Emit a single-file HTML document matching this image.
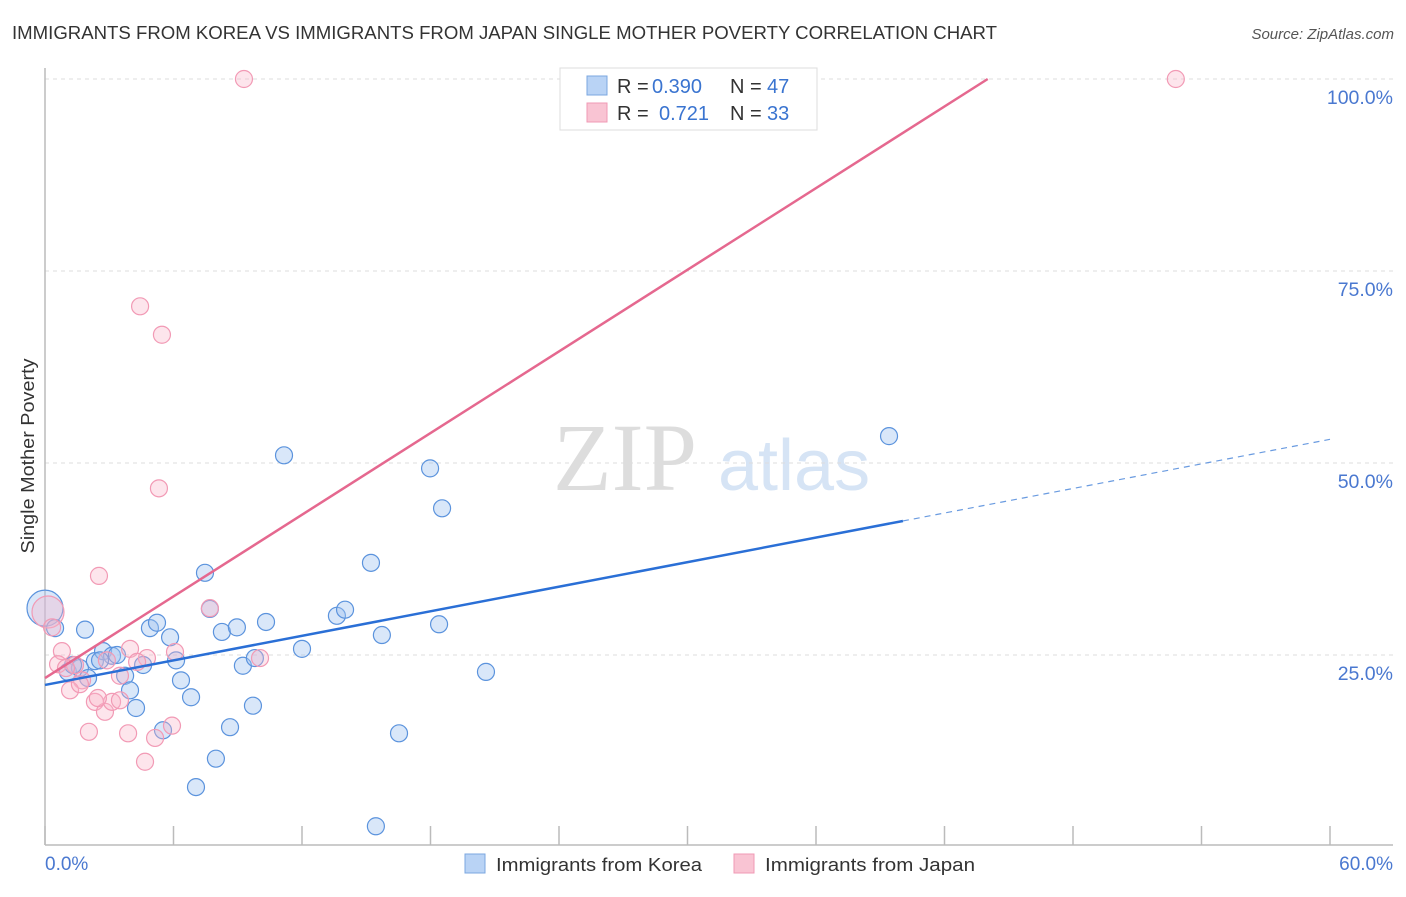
<!DOCTYPE html>
<html><head><meta charset="utf-8"><style>
body{margin:0;background:#fff;font-family:"Liberation Sans",sans-serif}
</style></head><body>
<svg id="c" width="1406" height="892" xmlns="http://www.w3.org/2000/svg" font-family="Liberation Sans, sans-serif">
<text x="12" y="39" font-size="18" fill="#333" textLength="985" lengthAdjust="spacingAndGlyphs">IMMIGRANTS FROM KOREA VS IMMIGRANTS FROM JAPAN SINGLE MOTHER POVERTY CORRELATION CHART</text>
<text x="1394" y="39" font-size="15" fill="#555" text-anchor="end" font-style="italic">Source: ZipAtlas.com</text>
<g>
<text x="553" y="490" font-size="96" font-family="Liberation Serif, serif" fill="#ddd">ZIP</text>
<text x="718" y="490" font-size="72" fill="#d6e4f5">atlas</text>
</g>
<g id="grid"></g>
<line x1="45" y1="68" x2="45" y2="845" stroke="#bbb" stroke-width="1.5"/>
<line x1="45" y1="845" x2="1393" y2="845" stroke="#bbb" stroke-width="1.5"/>
<text transform="translate(34,456) rotate(-90)" font-size="18" fill="#333" text-anchor="middle" textLength="195" lengthAdjust="spacingAndGlyphs">Single Mother Poverty</text>
<text x="45" y="870" font-size="19" fill="#4a78d0">0.0%</text>
<text x="1393" y="870" font-size="19" fill="#4a78d0" text-anchor="end">60.0%</text>
<g id="pts"></g>
<g id="lines"></g>
<g>
<rect x="560" y="68" width="257" height="62" fill="#fff" stroke="#ddd"/>
<rect x="587" y="76" width="20" height="19" fill="#b9d3f5" stroke="#7ba7e0"/>
<rect x="587" y="103" width="20" height="19" fill="#f9c4d3" stroke="#f09ab5"/>
<text x="617" y="93" font-size="20" fill="#333">R =</text>
<text x="652" y="93" font-size="20" fill="#3a74d0">0.390</text>
<text x="730" y="93" font-size="20" fill="#333">N =</text>
<text x="767" y="93" font-size="20" fill="#3a74d0">47</text>
<text x="617" y="120" font-size="20" fill="#333">R =</text>
<text x="659" y="120" font-size="20" fill="#3a74d0">0.721</text>
<text x="730" y="120" font-size="20" fill="#333">N =</text>
<text x="767" y="120" font-size="20" fill="#3a74d0">33</text>
</g>
<g>
<rect x="465" y="854" width="20" height="19" fill="#b9d3f5" stroke="#7ba7e0"/>
<text x="496" y="871" font-size="18" fill="#333" textLength="206" lengthAdjust="spacingAndGlyphs">Immigrants from Korea</text>
</g>
<g>
<rect x="734" y="854" width="20" height="19" fill="#f9c4d3" stroke="#f09ab5"/>
<text x="765" y="871" font-size="18" fill="#333" textLength="210" lengthAdjust="spacingAndGlyphs">Immigrants from Japan</text>
</g>
</svg>
<script>
const koreaX=[0,0.47,1.87,1.07,1.63,2.33,2.71,3.13,3.36,2.01,3.74,3.97,4.58,4.90,5.23,5.84,6.12,6.35,6.82,4.25,5.51,7.47,7.70,8.26,8.96,9.24,9.80,10.32,9.71,8.64,7.98,7.05,11.16,12.00,13.63,14.01,15.22,15.73,15.45,16.53,17.98,18.54,18.40,20.59,39.41,2.57,1.31];
const koreaY=[31.1,28.5,28.3,22.8,23.3,24.2,25.5,24.9,25.0,22.0,22.3,20.4,23.7,28.5,29.2,27.3,24.3,21.7,19.5,18.1,15.2,35.7,31.0,28.0,28.6,23.6,24.6,29.3,18.4,15.6,11.5,7.8,51.0,25.8,30.1,30.9,37.0,27.6,2.7,14.8,49.3,44.1,29.0,22.8,53.5,24.3,23.7];
const japanX=[0.14,0.33,0.79,0.61,1.40,1.73,2.52,4.44,5.46,5.32,9.29,52.8,7.70,3.97,4.76,6.07,10.04,3.50,2.33,2.80,3.13,3.50,2.05,3.88,5.14,5.93,4.67,4.30,2.89,1.17,1.63,2.47,0.98];
const japanY=[30.6,28.6,25.5,23.8,23.7,21.7,35.3,70.4,66.7,46.7,100,100,31.1,25.8,24.6,25.4,24.6,22.3,18.9,17.6,18.9,19.1,15.0,14.8,14.2,15.8,11.1,24.1,24.3,20.4,21.2,19.4,23.3];
const yTicks=[25,50,75,100];
const yTickLabels=["25.0%","50.0%","75.0%","100.0%"];
const xTicks=[0,6,12,18,24,30,36,42,48,54,60];
const koreaTrend=[21.1,0.533,40.06];
const japanTrend=[22.0,1.772];
const NS="http://www.w3.org/2000/svg";
const sx=v=>45+v/60*1285, sy=v=>847-v*7.68;
function mk(t,a,p){const e=document.createElementNS(NS,t);for(const k in a)e.setAttribute(k,a[k]);p.appendChild(e);return e;}
const grid=document.getElementById('grid');
yTicks.forEach((t,i)=>{
 const l=mk('line',{x1:45,x2:1393,y1:sy(t),y2:sy(t),stroke:'#ddd','stroke-dasharray':'4,4'},grid);
 
 
 const tx=mk('text',{x:1393,y:sy(t)+25,'font-size':19.5,fill:'#4a78d0','text-anchor':'end'},grid);
 tx.textContent=yTickLabels[i];
 
 
});
xTicks.forEach(t=>{
 const l=mk('line',{x1:sx(t),x2:sx(t),y1:826,y2:845,stroke:'#bbb','stroke-width':1.5},grid);
 
 
});
const pts=document.getElementById('pts');
koreaX.forEach((x,i)=>{
 const r=(i===0)?18:8.5;
 const c=mk('circle',{cx:sx(x),cy:sy(koreaY[i]),r:r,fill:'rgba(160,195,240,0.4)',stroke:'#5b93dd','stroke-width':1.2},pts);
 
 
});
japanX.forEach((x,i)=>{
 const r=(i===0)?16:8.5;
 const c=mk('circle',{cx:sx(x),cy:sy(japanY[i]),r:r,fill:'rgba(248,180,200,0.35)',stroke:'#f29ab5','stroke-width':1.2},pts);
 
 
});
const ln=document.getElementById('lines');
const kb=koreaTrend[0],km=koreaTrend[1],ke=koreaTrend[2];
let l=mk('line',{x1:sx(0),y1:sy(kb),x2:sx(ke),y2:sy(kb+km*ke),stroke:'#2a6fd6','stroke-width':2.5},ln);


l=mk('line',{x1:sx(ke),y1:sy(kb+km*ke),x2:sx(60),y2:sy(kb+km*60),stroke:'#6a9be0','stroke-width':1.2,'stroke-dasharray':'6,5'},ln);


const jb=japanTrend[0],jm=japanTrend[1],jx=(100-jb)/jm;
l=mk('line',{x1:sx(0),y1:sy(jb),x2:sx(jx),y2:sy(100),stroke:'#e5688f','stroke-width':2.5},ln);


</script>
</body></html>
